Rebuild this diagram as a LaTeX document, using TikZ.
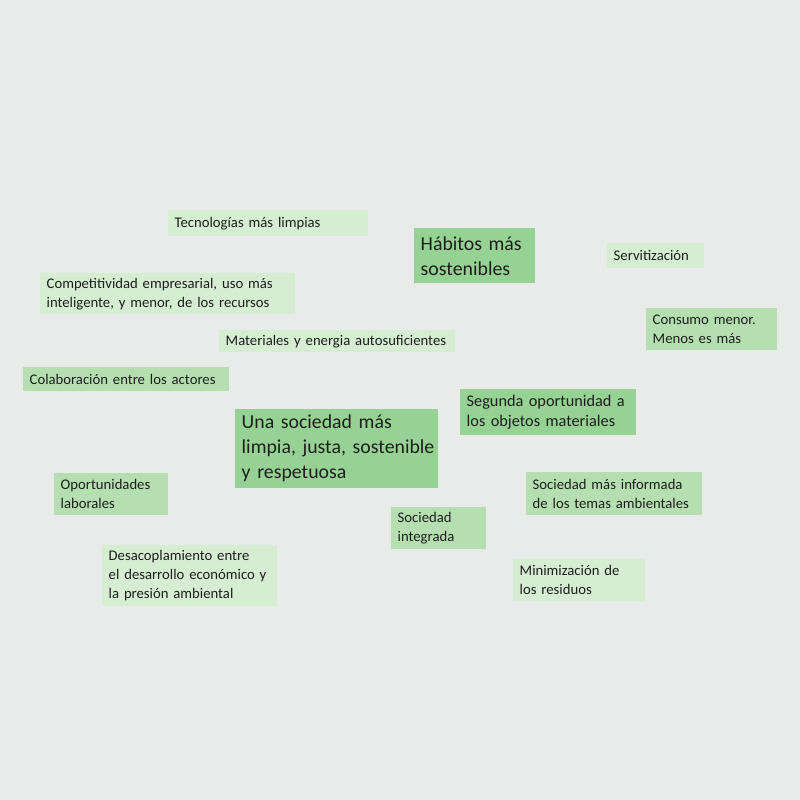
\documentclass[tikz,border=0pt]{standalone}
\usepackage{fontspec}
\setmainfont{Carlito}
\definecolor{bg}{HTML}{E8EBE9}
\definecolor{gdark}{HTML}{96D293}
\definecolor{gmed}{HTML}{B5DFB1}
\definecolor{glight}{HTML}{D5EED2}
\definecolor{ink}{HTML}{1E1E1E}
\tikzset{
  card/.style={anchor=north west, inner xsep=6.5pt, inner ysep=0pt, align=left, text=ink},
  small/.style={font=\fontsize{14.7}{19}\selectfont},
  mid/.style={font=\fontsize{16.3}{20.5}\selectfont},
  big/.style={font=\fontsize{19.8}{25}\selectfont},
  lightcard/.style={card, small, fill=glight},
  medcard/.style={card, small, fill=gmed},
  darkcard/.style={card, fill=gdark},
}
\begin{document}
\begin{tikzpicture}[x=1pt,y=-1pt]
\fill[bg] (0,0) rectangle (800,800);
\useasboundingbox (0,0) rectangle (800,800);
\node[lightcard, text width=187pt, minimum height=26pt] (tec) at (168,210) {\mbox{Tecnologías más limpias}};
\node[darkcard, big, text width=108pt, minimum height=55pt] (hab) at (414,228) {\mbox{Hábitos más}\\\mbox{sostenibles}};
\node[lightcard, text width=84pt, minimum height=25pt] (serv) at (607,243) {\mbox{Servitización}};
\node[lightcard, text width=242pt, minimum height=41pt] (comp) at (40,273) {\mbox{Competitividad empresarial, uso más}\\\mbox{inteligente, y menor, de los recursos}};
\node[medcard, text width=118pt, minimum height=42pt] (cons) at (646,308) {\mbox{Consumo menor.}\\\mbox{Menos es más}};
\node[lightcard, text width=223pt, minimum height=22pt] (mat) at (219,330) {\mbox{Materiales y energia autosuficientes}};
\node[medcard, text width=193pt, minimum height=24pt] (col) at (23,367) {\mbox{Colaboración entre los actores}};
\node[darkcard, mid, text width=163pt, minimum height=46pt] (seg) at (460,389) {\mbox{Segunda oportunidad a}\\\mbox{los objetos materiales}};
\node[darkcard, big, text width=190pt, minimum height=79pt] (una) at (235,409) {\mbox{Una sociedad más}\\\mbox{limpia, justa, sostenible}\\\mbox{y respetuosa}};
\node[medcard, text width=101pt, minimum height=42pt] (opo) at (54,473) {\mbox{Oportunidades}\\\mbox{laborales}};
\node[medcard, text width=163pt, minimum height=43pt] (inf) at (526,472) {\mbox{Sociedad más informada}\\\mbox{de los temas ambientales}};
\node[medcard, text width=82pt, minimum height=42pt] (int) at (391,507) {\mbox{Sociedad}\\\mbox{integrada}};
\node[lightcard, text width=162pt, minimum height=61pt] (des) at (102,545) {\mbox{Desacoplamiento entre}\\\mbox{el desarrollo económico y}\\\mbox{la presión ambiental}};
\node[lightcard, text width=119pt, minimum height=42pt] (min) at (513,559) {\mbox{Minimización de}\\\mbox{los residuos}};
\end{tikzpicture}
\end{document}
